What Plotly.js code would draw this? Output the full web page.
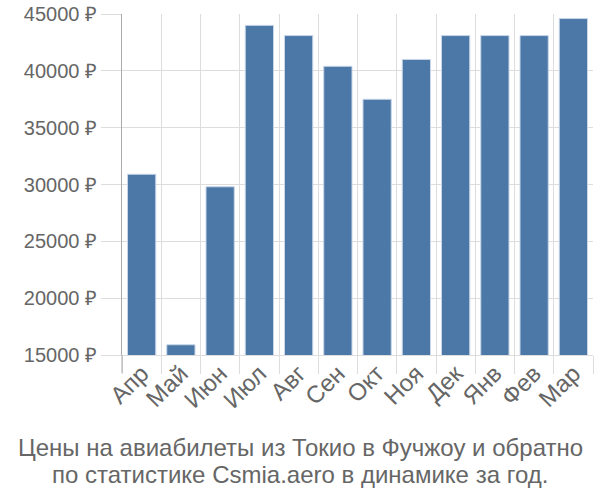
<!DOCTYPE html>
<html><head><meta charset="utf-8">
<script src="https://cdn.plot.ly/plotly-3.0.1.min.js"></script>
<style>body{margin:0;}#chart{width:600px;height:500px;}</style>
</head><body><div id="chart"></div>
<script>
const months = ["Апр","Май","Июн","Июл","Авг","Сен","Окт","Ноя","Дек","Янв","Фев","Мар"];
const prices = [30900, 15900, 29800, 44000, 43100, 40400, 37500, 41000, 43100, 43100, 43100, 44600];
const yTicks = [15000, 20000, 25000, 30000, 35000, 40000, 45000];
const yTickText = yTicks.map(v => v + " ₽");
const titleLines = ["Цены на авиабилеты из Токио в Фучжоу и обратно", "по статистике Csmia.aero в динамике за год."];

const fam = "Liberation Sans, Arial, sans-serif";
const xTickFont = {family: fam, size: 24, color: "#666"};
const yTickFont = {family: fam, size: 20, color: "#666"};
const titleFont = {family: fam, size: 24, color: "#666"};
const plotLeft = 122, plotW = 471;
const centerX = (300 - plotLeft) / plotW;

Plotly.newPlot("chart", [{
  type: "bar", x: months, y: prices,
  marker: {color: "#4c78a8", line: {color: "#c8d6e8", width: 1}},
  hoverinfo: "none"
}], {
  width: 600, height: 500,
  margin: {l: 122, r: 7, t: 14, b: 145},
  paper_bgcolor: "#fff", plot_bgcolor: "#fff",
  bargap: 0.28,
  font: xTickFont,
  showlegend: false,
  xaxis: {type: "category", tickson: "boundaries", ticks: "outside", ticklen: 18, tickcolor: "#ddd",
    showgrid: true, gridcolor: "#ddd", gridwidth: 1, tickangle: -45, showline: true, linecolor: "#ddd",
    tickfont: xTickFont, ticklabelstandoff: -6},
  yaxis: {range: [15000, 45000], tickvals: yTicks, ticktext: yTickText, showgrid: true, gridcolor: "#ddd",
    ticks: "outside", ticklen: 20, tickcolor: "#ddd", showline: true, linecolor: "#aaa", zeroline: false,
    tickfont: yTickFont},
  shapes: [{type: "line", xref: "paper", yref: "paper", ysizemode: "pixel", yanchor: 0,
    x0: 0, x1: 0, y0: 0, y1: -18, line: {color: "#aaa", width: 1}}],
  annotations: [
    {text: titleLines[0], xref: "paper", yref: "paper", x: centerX, xanchor: "center",
      y: 0, yanchor: "middle", yshift: -92, showarrow: false, font: titleFont},
    {text: titleLines[1], xref: "paper", yref: "paper", x: centerX, xanchor: "center",
      y: 0, yanchor: "middle", yshift: -119, showarrow: false, font: titleFont}
  ]
}, {staticPlot: true});
</script></body></html>
